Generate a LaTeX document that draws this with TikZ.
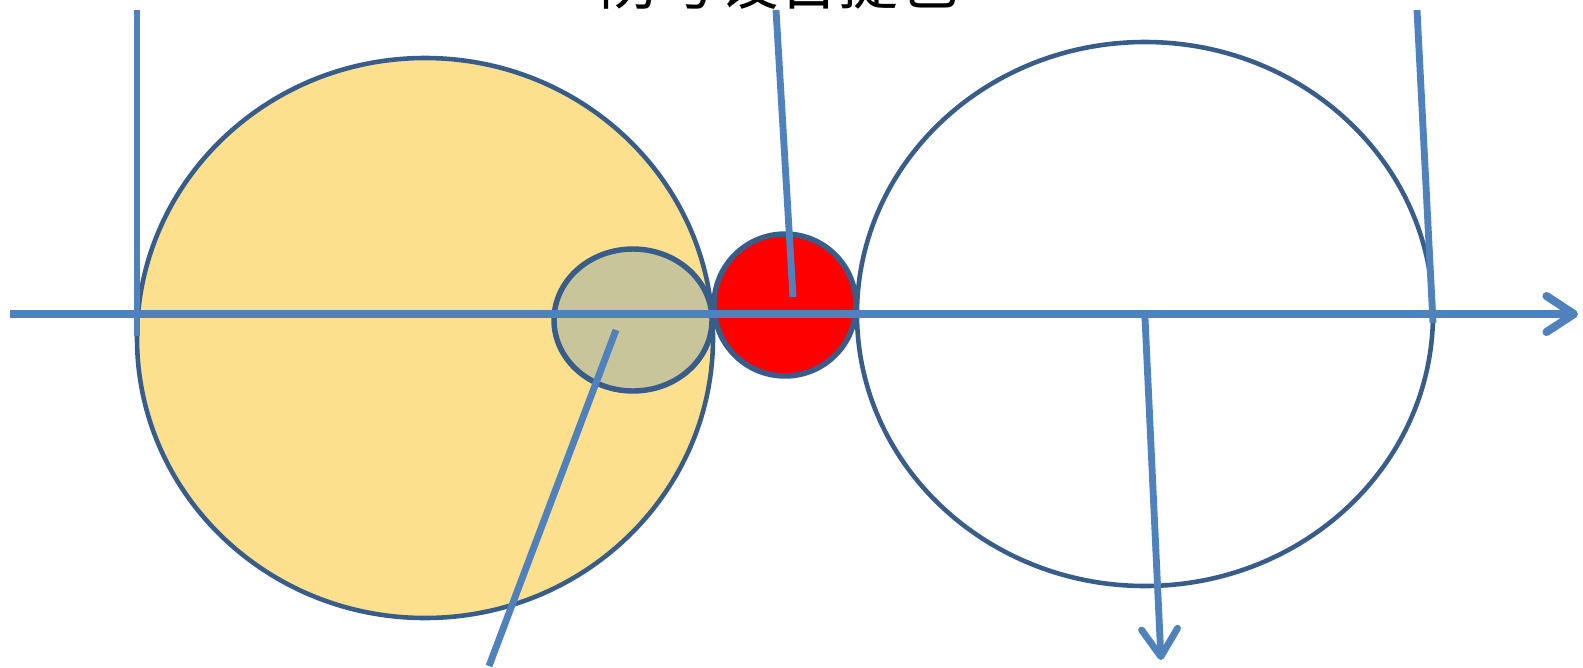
\documentclass[tikz,border=0pt]{standalone}
\usepackage{fontspec}
\newfontfamily\cjk{Noto Sans CJK SC}
\usetikzlibrary{arrows.meta}
\definecolor{rimblue}{RGB}{56,93,138}
\definecolor{lineblue}{RGB}{79,129,189}
\definecolor{sunyellow}{RGB}{253,224,142}
\definecolor{olivegrey}{RGB}{201,197,154}
\begin{document}
\begin{tikzpicture}[x=0.02cm, y=-0.02cm,
		disc/.style={draw=rimblue, line width=2.6pt},
		ray/.style={draw=lineblue, line width=3.9pt},
		axis/.style={draw=lineblue, line width=4.6pt},
		barb/.style={-{Straight Barb[length=0.55cm, width=0.72cm, round]}}
		]
		\useasboundingbox (0,0) rectangle (1583,667);
		% bodies
		\draw[disc, fill=sunyellow] (425,338) ellipse [x radius=288, y radius=280];
		\draw[disc, line width=3.1pt, fill=olivegrey] (633,320) ellipse [x radius=79, y radius=71];
		\draw[disc, line width=3.1pt, fill=red] (785,305) ellipse [x radius=71, y radius=71];
		\draw[disc] (1145,314) ellipse [x radius=288, y radius=272];
		% named points
		\coordinate (axL) at (10,314);
		\coordinate (axR) at (1578,314);
		\coordinate (vA) at (137,10);
		\coordinate (vB) at (137,336);
		\coordinate (mA) at (776,10);
		\coordinate (mB) at (793,297);
		\coordinate (rA) at (1417,10);
		\coordinate (rB) at (1433,323);
		\coordinate (sA) at (616,330);
		\coordinate (sB) at (489,666);
		\coordinate (dA) at (1145,318);
		\coordinate (dB) at (1161,660);
		% lines
		\draw[ray] (vA) -- (vB);
		\draw[ray] (mA) -- (mB);
		\draw[ray] (rA) -- (rB);
		\draw[ray] (sA) -- (sB);
		\draw[axis, barb] (axL) -- (axR);
		\draw[ray, barb] (dA) -- (dB);
		% caption, cut at the top edge
		\node[anchor=base, inner sep=0pt, font=\cjk\fontsize{34}{40}\selectfont] (cap) at (779,4) {防号设台提包};
	\end{tikzpicture}
\end{document}
